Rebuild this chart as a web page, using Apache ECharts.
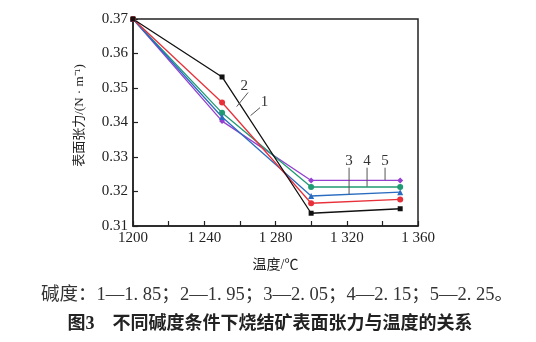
<!DOCTYPE html>
<html><head><meta charset="utf-8">
<script src="https://cdn.jsdelivr.net/npm/echarts@6/dist/echarts.min.js"></script>
<style>html,body{margin:0;padding:0;background:#fff}#c{width:536px;height:342px}</style>
</head><body><div id="c"></div>
<script>
var temps = [1200, 1250, 1300, 1350];
var s1 = [0.370, 0.3532, 0.3137, 0.3150];
var s2 = [0.370, 0.3458, 0.3166, 0.3177];
var s3 = [0.370, 0.3416, 0.3187, 0.3198];
var s4 = [0.370, 0.3428, 0.3213, 0.3213];
var s5 = [0.370, 0.3404, 0.3232, 0.3232];
var seriesNames = ['1', '2', '3', '4', '5'];
var xTickLabels = {1200: '1200', 1240: '1 240', 1280: '1 280', 1320: '1 320', 1360: '1 360'};
// annotation labels: [text, textX, textY, lineFrom, lineTo] in data units
var annotations = [
  ['2', 1262.5, 0.3506, [1264.6, 0.3487], [1258.2, 0.3446]],
  ['1', 1273.8, 0.3458, [1271.3, 0.3443], [1266.0, 0.3420]],
  ['3', 1321.3, 0.3287, [1321.3, 0.3269], [1321.3, 0.3192]],
  ['4', 1331.4, 0.3287, [1331.4, 0.3269], [1331.4, 0.3214]],
  ['5', 1341.5, 0.3287, [1341.5, 0.3269], [1341.5, 0.3233]]
];
var caption = '碱度：1—1. 85；2—1. 95；3—2. 05；4—2. 15；5—2. 25。';
var title = '图3\u3000不同碱度条件下烧结矿表面张力与温度的关系';

var colors = ['#111111', '#e8303a', '#2a6cc0', '#1f9a72', '#9440d0'];
var symbols = ['rect', 'circle', 'triangle', 'circle', 'diamond'];
var data = [s1, s2, s3, s4, s5];
var serif = '"Liberation Serif","DejaVu Serif",serif';
var cjk = '"Liberation Serif","Noto Sans CJK SC",serif';

var chart = echarts.init(document.getElementById('c'));
var order = [4, 3, 2, 1, 0];
var series = order.map(function (i) {
  return {
    name: seriesNames[i], type: 'line',
    data: temps.map(function (t, k) { return [t, data[i][k]]; }),
    symbol: symbols[i], symbolSize: i === 0 ? 5 : 6,
    lineStyle: {color: colors[i], width: 1.3},
    itemStyle: {color: colors[i]},
    animation: false, z: 3
  };
});
chart.setOption({
  animation: false,
  grid: {left: 133, right: 118, top: 19, bottom: 116},
  xAxis: {
    type: 'value', min: 1200, max: 1360, interval: 20,
    name: '温度/℃', nameLocation: 'middle', nameGap: 32,
    nameTextStyle: {fontFamily: cjk, fontSize: 14, color: '#222'},
    axisLine: {show: true, lineStyle: {color: '#222', width: 1.5}},
    axisTick: {show: true, inside: true, length: 5, lineStyle: {color: '#222', width: 1.2}},
    axisLabel: {fontFamily: serif, fontSize: 15, color: '#222', margin: 5,
      formatter: function (v) { return xTickLabels[v] || ''; }},
    splitLine: {show: false}
  },
  yAxis: {
    type: 'value', min: 0.31, max: 0.37, interval: 0.01,
    name: '表面张力/(N · m⁻¹)', nameLocation: 'middle', nameGap: 47,
    nameTextStyle: {fontFamily: cjk, fontSize: 13, color: '#222', padding: [0, 0, 0, 14]},
    axisLine: {show: true, lineStyle: {color: '#222', width: 1.5}},
    axisTick: {show: true, inside: true, length: 5, lineStyle: {color: '#222', width: 1.2}},
    axisLabel: {fontFamily: serif, fontSize: 15, color: '#222', margin: 5,
      formatter: function (v) { return v.toFixed(2); }},
    splitLine: {show: false}
  },
  series: series
});

// frame + annotations
var gr = chart.getModel().getComponent('grid').coordinateSystem.getRect();
var elements = [{
  type: 'rect', shape: {x: gr.x, y: gr.y, width: gr.width, height: gr.height},
  style: {fill: 'none', stroke: '#222', lineWidth: 1.5}, z: 1
}];
annotations.forEach(function (a) {
  var tp = chart.convertToPixel({gridIndex: 0}, [a[1], a[2]]);
  var p1 = chart.convertToPixel({gridIndex: 0}, a[3]);
  var p2 = chart.convertToPixel({gridIndex: 0}, a[4]);
  elements.push({type: 'text', x: tp[0], y: tp[1],
    style: {text: a[0], font: '15px ' + serif, fill: '#333', align: 'center', verticalAlign: 'middle'}, z: 10});
  elements.push({type: 'line', shape: {x1: p1[0], y1: p1[1], x2: p2[0], y2: p2[1]},
    style: {stroke: '#555', lineWidth: 1}, z: 10});
});
elements.push({type: 'text', x: 277, y: 295,
  style: {text: caption, font: '18.5px ' + cjk, fill: '#333', align: 'center', verticalAlign: 'middle'}});
elements.push({type: 'text', x: 270, y: 324,
  style: {text: title, font: 'bold 18px ' + cjk, fill: '#222', align: 'center', verticalAlign: 'middle'}});
chart.setOption({graphic: {elements: elements}});
</script></body></html>
